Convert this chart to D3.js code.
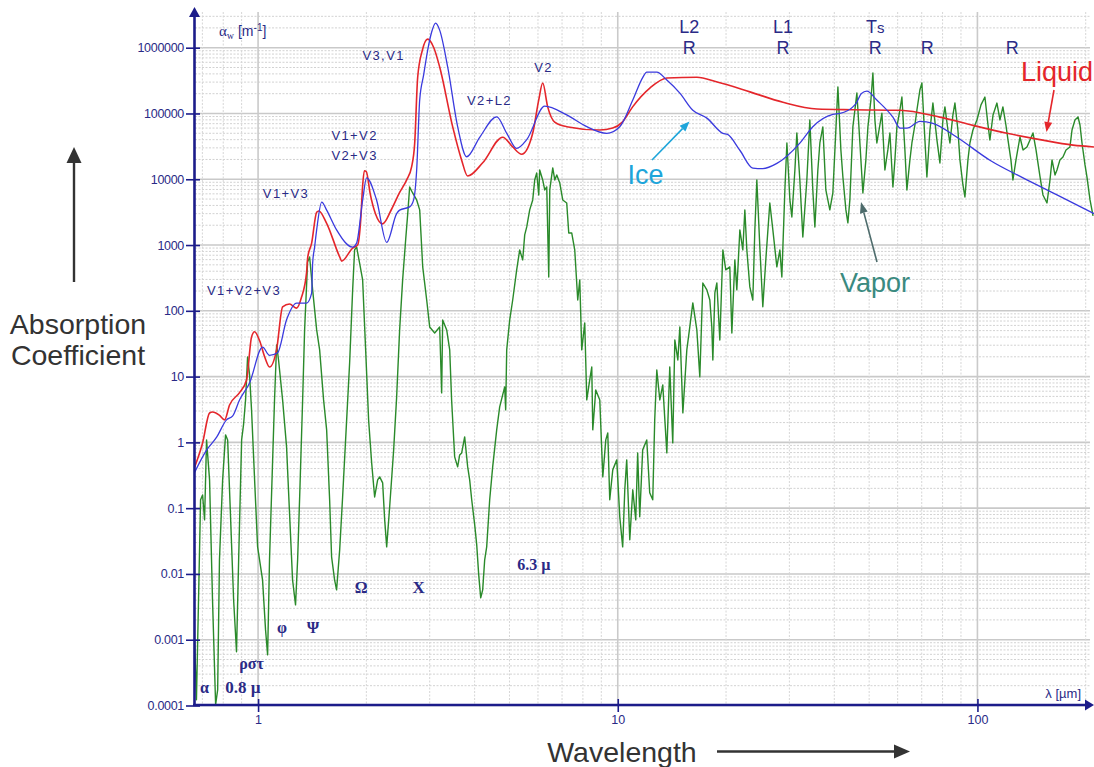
<!DOCTYPE html>
<html>
<head>
<meta charset="utf-8">
<script src="https://cdn.jsdelivr.net/npm/d3@7"></script>
<style>
  body { margin: 0; background: #fff; }
  svg { display: block; }
</style>
</head>
<body>
<svg id="chart" width="1094" height="767"></svg>
<script>
// Axis ticks
const yTickValues = [1e-4, 1e-3, 1e-2, 1e-1, 1, 10, 100, 1000, 1e4, 1e5, 1e6];
const yTickLabels = ["0.0001", "0.001", "0.01", "0.1", "1", "10", "100", "1000", "10000", "100000", "1000000"];
const xTickValues = [1, 10, 100];
const xTickLabels = ["1", "10", "100"];

// Absorption coefficient of liquid water [wavelength µm, alpha m^-1]
const liquid = [
  [0.666,0.42],[0.701,0.98],[0.733,2.8],[0.747,2.9],[0.780,2.6],[0.807,2.2],[0.833,3.7],[0.888,5.7],
  [0.929,8.9],[0.959,40],[0.978,48],[1.010,35],[1.043,20],[1.076,14],[1.126,26],[1.170,115],[1.223,127],
  [1.280,110],[1.321,162],[1.364,380],[1.373,630],[1.409,1070],[1.455,3160],[1.475,3300],[1.551,2140],
  [1.686,660],[1.708,570],[1.832,900],[1.891,1000],[1.930,2500],[1.953,8000],[1.975,13500],[2.00,13000],
  [2.05,6000],[2.12,3000],[2.22,2100],[2.35,3500],[2.475,6300],[2.589,9800],[2.672,15400],[2.725,35000],
  [2.778,355000],[2.86,900000],[2.961,1.35e6],[3.08,1.0e6],[3.198,510000],[3.475,63000],[3.681,19500],
  [3.825,11200],[4.212,17800],[4.787,43600],[5.105,31000],[5.407,24000],[5.801,50000],[6.029,160000],
  [6.185,290000],[6.386,126000],[6.678,74000],[7.213,63000],[8.91,56000],[9.68,60000],[10.3,74000],
  [11.0,126000],[12.3,245000],[13.7,347000],[16.6,355000],[18.9,300000],[23.3,213000],[28.8,148000],
  [35.8,117000],[45,114000],[60.9,112000],[78.6,88000],[97.2,66000],[120.8,50000],[149.2,40000],
  [184.4,33000],[210.9,31000]
];

// Absorption coefficient of ice
const ice = [
  [0.666,0.35],[0.719,0.76],[0.767,1.2],[0.817,2.2],[0.849,2.5],[0.888,4.4],[0.947,8.0],[1.029,28],
  [1.076,21],[1.133,23],[1.200,73],[1.280,131],[1.364,131],[1.409,186],[1.418,530],[1.436,930],
  [1.455,1700],[1.503,4500],[1.551,3400],[1.653,1700],[1.832,930],[1.879,1070],[1.953,4800],[2.003,10500],
  [2.136,4800],[2.278,1100],[2.428,3000],[2.475,3400],[2.639,3800],[2.707,4850],[2.760,13840],
  [2.814,160000],[2.886,385000],[2.961,910000],[3.038,1.73e6],[3.117,2.36e6],[3.198,1.85e6],
  [3.366,510000],[3.588,63000],[3.802,22000],[4.132,43500],[4.607,89000],[4.914,50000],[5.236,29500],
  [5.584,40000],[6.266,129000],[7.213,95000],[8.20,63000],[9.32,50000],[10.13,63000],[11.01,160000],
  [11.74,355000],[12.04,426000],[12.84,426000],[13.69,322000],[14.88,204000],[16.17,112000],
  [17.69,85000],[19.60,50000],[20.2,48000],[21.85,27600],[23.74,14800],[25.31,14500],[27.69,17400],
  [32.08,35500],[34.86,63000],[39.63,97000],[41.5,100000],[45.05,126000],[46.2,148000],[47.5,200000],
  [49.3,219000],[52.5,160000],[58.2,88000],[61.0,60000],[63.7,60000],[69.2,76000],[75.2,71000],
  [87.7,43500],[108.3,19500],[133.9,10500],[166.4,5800],[210.9,3000]
];

// Absorption coefficient of water vapour
const vapor = [
  [0.666,0.001],[0.674,1.22e-4],[0.683,4.04e-3],[0.692,0.134],[0.701,0.159],[0.710,0.0664],[0.719,1.09],
  [0.733,0.269],[0.747,4.04e-3],[0.762,1.03e-4],[0.772,1.73e-4],[0.781,0.0164],[0.797,0.269],[0.812,1.30],
  [0.823,1.09],[0.839,0.0664],[0.855,4.04e-3],[0.871,6.55e-4],[0.883,0.0164],[0.900,1.09],[0.911,1.84],
  [0.923,4.42],[0.935,19.9],[0.947,10.6],[0.959,3.12],[0.978,0.269],[0.997,0.0258],[1.029,8.13e-3],
  [1.049,1.41e-3],[1.063,5.89e-4],[1.076,0.0164],[1.097,0.488],[1.111,4.42],[1.126,30.3],[1.140,17.9],
  [1.170,4.42],[1.200,0.855],[1.223,0.0848],[1.247,8.13e-3],[1.271,3.39e-3],[1.288,0.0164],[1.305,0.148],
  [1.330,4.42],[1.347,51.3],[1.373,553],[1.391,659],[1.418,208],[1.455,51.3],[1.483,25.5],[1.521,4.42],
  [1.551,1.55],[1.581,0.134],[1.601,0.0182],[1.632,8.13e-3],[1.653,5.73e-3],[1.686,0.0232],[1.718,0.148],
  [1.763,2.20],[1.797,16.2],[1.832,208],[1.855,843],[1.879,935],[1.915,535],[1.953,295],[1.991,25.5],
  [2.029,2.20],[2.069,0.488],[2.109,0.148],[2.150,0.269],[2.178,0.299],[2.220,0.242],[2.249,0.0664],
  [2.278,0.0258],[2.322,0.105],[2.382,0.769],[2.428,4.92],[2.475,51.3],[2.523,295],[2.572,1195],
  [2.605,2870],[2.639,7640],[2.690,6190],[2.760,4850],[2.814,3420],[2.869,465],[2.943,146],[3.000,56.9],
  [3.097,46.1],[3.198,56.9],[3.239,5.65],[3.260,72.7],[3.345,51.3],[3.410,25.5],[3.452,4.42],[3.520,0.602],
  [3.588,0.424],[3.635,0.645],[3.682,0.692],[3.753,1.21],[3.826,0.424],[3.875,0.269],[3.926,0.134],
  [4.002,0.0557],[4.054,0.0277],[4.106,9.69e-3],[4.159,4.33e-3],[4.212,5.73e-3],[4.266,0.0164],
  [4.321,0.0258],[4.405,0.134],[4.490,0.424],[4.607,1.55],[4.696,3.46],[4.787,5.27],[4.849,6.97],
  [4.880,3.12],[4.912,25.5],[5.007,72.7],[5.104,146],[5.236,419],[5.338,843],[5.441,594],[5.512,1425],
  [5.584,1884],[5.691,3420],[5.802,4850],[5.876,9750],[5.952,12470],[6.030,5770],[6.067,13840],
  [6.185,9750],[6.266,6880],[6.347,7640],[6.429,327],[6.471,6880],[6.596,14850],[6.682,9750],[6.767,11620],
  [6.899,8780],[7.031,4850],[7.213,4360],[7.307,1527],[7.447,1527],[7.593,843],[7.740,146],[7.841,295],
  [7.941,25.5],[8.095,65.5],[8.200,4.42],[8.358,8.91],[8.467,14.0],[8.522,1.55],[8.687,6.28],[8.913,4.42],
  [9.087,0.299],[9.262,1.09],[9.381,1.39],[9.500,0.134],[9.685,0.382],[9.936,0.542],[10.13,0.0738],
  [10.32,0.0258],[10.46,0.190],[10.59,0.542],[10.80,0.033],[11.01,0.190],[11.22,0.0664],[11.36,0.692],
  [11.51,0.0738],[11.73,0.769],[12.04,1.09],[12.27,0.171],[12.51,0.134],[12.67,2.20],[12.84,12.6],
  [13.09,4.42],[13.34,7.48],[13.69,0.692],[13.95,14.0],[14.22,0.983],[14.41,36.1],[14.69,17.9],
  [14.88,56.9],[15.17,2.81],[15.56,25.5],[15.86,56.9],[16.17,132],[16.59,51.3],[16.91,9.89],[17.24,265],
  [17.69,208],[18.03,146],[18.26,56.9],[18.38,17.9],[18.62,187],[18.86,265],[19.22,36.1],[19.60,843],
  [19.97,419],[20.49,465],[20.76,46.1],[21.16,594],[21.43,208],[21.85,1697],[22.27,843],[22.56,3420],
  [22.85,843],[23.29,231],[23.74,146],[24.05,1697],[24.36,9750],[24.83,935],[25.31,115],[25.80,594],
  [26.47,4360],[26.99,1697],[27.69,465],[28.23,843],[28.59,327],[29.15,6880],[29.53,35600],[30.10,4850],
  [30.48,2673],[31.08,13840],[31.47,50500],[32.08,9750],[32.70,1328],[33.55,9750],[34.20,79700],
  [34.86,6880],[35.32,1884],[36.00,13840],[36.47,35600],[37.17,62400],[37.89,6880],[38.87,3420],
  [39.63,6190],[40.40,56100],[40.93,253000],[41.72,27900],[42.26,10840],[43.08,3420],[43.63,2170],
  [44.19,4850],[45.05,62400],[46.22,205000],[47.12,35600],[48.03,6190],[48.96,19700],[49.60,62400],
  [50.56,160000],[51.21,413000],[51.87,79700],[52.53,35600],[53.55,66800],[54.25,101000],[55.30,13840],
  [56.36,27900],[57.10,50500],[58.21,7640],[58.96,19700],[59.72,62400],[60.88,113000],[61.66,178000],
  [62.85,27900],[63.67,6880],[64.90,19700],[65.74,35600],[67.01,66800],[67.88,113000],[69.18,227000],
  [70.08,291000],[71.45,39600],[72.36,10840],[73.78,56100],[75.20,144000],[77.15,39600],[78.65,17700],
  [80.17,79700],[81.21,126000],[82.78,56100],[83.85,35600],[85.47,94900],[86.58,144000],[88.25,56100],
  [89.40,19700],[91.14,8190],[92.30,5380],[94.10,19700],[95.30,35600],[97.16,56100],[99.68,79700],
  [102.3,135000],[104.9,178000],[107.0,66800],[108.3,39600],[110.5,94900],[113.3,144000],[115.5,79700],
  [117.7,126000],[120.0,66800],[121.6,39600],[123.9,19700],[125.5,9750],[128.0,19700],[131.3,43900],
  [133.9,27900],[137.3,31000],[140.0,39600],[142.7,50500],[145.5,27900],[149.3,10840],[152.1,5770],
  [156.1,4360],[159.1,9750],[161.2,19700],[164.3,11620],[166.4,13840],[169.6,19700],[172.9,21800],
  [176.3,27900],[180.8,31000],[183.2,56100],[186.7,79700],[190.4,88500],[192.8,66800],[195.3,35600],
  [199.1,16500],[201.6,10840],[205.6,4850],[209.6,2770]
];

// Band assignment labels, anchored at [wavelength, alpha]
const bandLabels = [
  { text: "V3,V1", at: [2.234, 6.5e5] },
  { text: "V2", at: [6.22, 4.27e5] },
  { text: "V2+L2", at: [4.40, 1.35e5] },
  { text: "V1+V2", at: [1.855, 39600] },
  { text: "V2+V3", at: [1.855, 19700] },
  { text: "V1+V3", at: [1.196, 5200] },
  { text: "V1+V2+V3", at: [0.914, 174] }
];
const rotationLabels = [
  { top: "L2", bottom: "R", at: 15.8 },
  { top: "L1", bottom: "R", at: 28.8 },
  { top: "T", sub: "s", bottom: "R", at: 52.0 },
  { top: "", bottom: "R", at: 72.5 },
  { top: "", bottom: "R", at: 125 }
];
const vaporBandLabels = [
  { text: "α", at: [0.710, 1.56e-4], size: 16 },
  { text: "0.8 µ", at: [0.908, 1.56e-4], size: 17 },
  { text: "ρστ", at: [0.959, 3.6e-4], size: 16 },
  { text: "φ", at: [1.166, 1.27e-3], size: 16 },
  { text: "Ψ", at: [1.422, 1.27e-3], size: 16 },
  { text: "Ω", at: [1.934, 5.16e-3], size: 16 },
  { text: "Χ", at: [2.796, 5.16e-3], size: 17 },
  { text: "6.3 µ", at: [5.84, 1.15e-2], size: 16 }
];

const svg = d3.select("#chart");
const navy = "#1c1c8a";
const labelNavy = "#2a2a86";
const sans = "Arial, 'Liberation Sans', sans-serif";
const serif = "'Times New Roman', 'Liberation Serif', serif";

const x = d3.scaleLog().domain([0.6635, 210.9]).range([194, 1094]);
const y = d3.scaleLog().domain([1e-4, 1e6]).range([705.5, 47.7]);
const plotTop = 12;
const plotRight = 1090;

// Grid
const grid = svg.append("g");
const yGridMinor = [];
for (let e = -4; e <= 6; e++) {
  for (let m = 2; m <= 9; m++) {
    const v = m * Math.pow(10, e);
    if (y(v) >= plotTop) yGridMinor.push(v);
  }
}
grid.selectAll(".ygm").data(yGridMinor).join("line")
  .attr("x1", 195).attr("x2", plotRight)
  .attr("y1", d => y(d)).attr("y2", d => y(d))
  .attr("stroke", "#d2d2d2").attr("stroke-width", 1).attr("stroke-dasharray", "2,1.5");
grid.selectAll(".ygM").data(yTickValues).join("line")
  .attr("x1", 195).attr("x2", plotRight)
  .attr("y1", d => y(d)).attr("y2", d => y(d))
  .attr("stroke", "#c9c9c9").attr("stroke-width", 1.6);

const xGridMinor = [];
for (let e = -1; e <= 2; e++) {
  for (let m = 2; m <= 9; m++) {
    const v = m * Math.pow(10, e);
    if (v > 0.6635 && x(v) <= plotRight) xGridMinor.push(v);
  }
}
grid.selectAll(".xgm").data(xGridMinor).join("line")
  .attr("x1", d => x(d)).attr("x2", d => x(d))
  .attr("y1", plotTop).attr("y2", 704)
  .attr("stroke", "#d6d6d6").attr("stroke-width", 1).attr("stroke-dasharray", "2,1.5");
grid.selectAll(".xgM").data(xTickValues).join("line")
  .attr("x1", d => x(d)).attr("x2", d => x(d))
  .attr("y1", plotTop).attr("y2", 704)
  .attr("stroke", "#cacaca").attr("stroke-width", 1.6);

// Curves
svg.append("clipPath").attr("id", "plotClip")
  .append("rect").attr("x", 195).attr("y", 6).attr("width", 899).attr("height", 699);

const smoothLine = d3.line().x(d => x(d[0])).y(d => y(d[1])).curve(d3.curveMonotoneX);
const rawLine = d3.line().x(d => x(d[0])).y(d => y(d[1]));

const curves = svg.append("g").attr("clip-path", "url(#plotClip)");
curves.append("path").datum(vapor).attr("d", rawLine)
  .attr("fill", "none").attr("stroke", "#2a8a2a").attr("stroke-width", 1.4).attr("stroke-linejoin", "round");
curves.append("path").datum(liquid).attr("d", smoothLine)
  .attr("fill", "none").attr("stroke", "#e4262b").attr("stroke-width", 1.6);
curves.append("path").datum(ice).attr("d", smoothLine)
  .attr("fill", "none").attr("stroke", "#3a3ade").attr("stroke-width", 1.3);

// Axes
const yAxis = d3.axisLeft(y).tickValues(yTickValues).tickFormat((d, i) => yTickLabels[i]).tickSize(8).tickPadding(2);
const gy = svg.append("g").attr("transform", "translate(194,0)").call(yAxis);
gy.select(".domain").remove();
gy.selectAll(".tick line").attr("x1", 6).attr("x2", -8).attr("stroke", navy).attr("stroke-width", 1.6);
gy.selectAll(".tick text").attr("fill", labelNavy).attr("font-size", 12.5)
  .attr("font-family", sans).attr("letter-spacing", "-0.3px");

const xAxis = d3.axisBottom(x).tickValues(xTickValues).tickFormat((d, i) => xTickLabels[i]).tickSize(7).tickPadding(3);
const gx = svg.append("g").attr("transform", "translate(0,705)").call(xAxis);
gx.select(".domain").remove();
gx.selectAll(".tick line").attr("y1", -6).attr("y2", 7).attr("stroke", navy).attr("stroke-width", 1.6);
gx.selectAll(".tick text").attr("fill", labelNavy).attr("font-size", 12.5).attr("font-family", sans);

svg.append("line").attr("x1", 194.5).attr("x2", 194.5).attr("y1", 706).attr("y2", 14)
  .attr("stroke", navy).attr("stroke-width", 2.6);
svg.append("path").attr("d", "M194.5,7 L189,17 L200,17 Z").attr("fill", navy);
svg.append("line").attr("x1", 193).attr("x2", 1086).attr("y1", 705).attr("y2", 705)
  .attr("stroke", navy).attr("stroke-width", 2.6);
svg.append("path").attr("d", "M1094,705 L1085,699.5 L1085,710.5 Z").attr("fill", navy);

svg.append("text").attr("x", 219).attr("y", 36).attr("fill", labelNavy)
  .attr("font-family", serif).attr("font-size", 15)
  .html(`α<tspan font-size="10" dy="3">w</tspan><tspan dy="-3" font-family="${sans}" font-size="14"> [m</tspan><tspan font-family="${sans}" font-size="10" dy="-5">-1</tspan><tspan font-family="${sans}" font-size="14" dy="5">]</tspan>`);
svg.append("text").attr("x", 1081).attr("y", 698).attr("text-anchor", "end").attr("fill", labelNavy)
  .attr("font-family", sans).attr("font-size", 13).text("λ [µm]");

// Band labels
svg.append("g").selectAll("text").data(bandLabels).join("text")
  .attr("x", d => x(d.at[0])).attr("y", d => y(d.at[1]))
  .attr("text-anchor", "middle").attr("fill", labelNavy).attr("font-family", sans)
  .attr("font-size", 13).attr("letter-spacing", "1.4px").text(d => d.text);

const rot = svg.append("g").selectAll("g").data(rotationLabels).join("g");
const rotTop = rot.append("text").attr("x", d => x(d.at)).attr("y", 33).attr("text-anchor", "middle")
  .attr("fill", labelNavy).attr("font-family", sans).attr("font-size", 18);
rotTop.append("tspan").text(d => d.top);
rotTop.filter(d => d.sub).append("tspan").attr("font-size", 15).text(d => d.sub);
rot.append("text").attr("x", d => x(d.at)).attr("y", 54).attr("text-anchor", "middle")
  .attr("fill", labelNavy).attr("font-family", sans).attr("font-size", 18).text(d => d.bottom);

svg.append("g").selectAll("text").data(vaporBandLabels).join("text")
  .attr("x", d => x(d.at[0])).attr("y", d => y(d.at[1]))
  .attr("text-anchor", "middle").attr("fill", labelNavy)
  .attr("font-family", serif).attr("font-weight", "bold")
  .attr("font-size", d => d.size).text(d => d.text);

// Phase names and pointers
function arrow(x1, y1, x2, y2, color, width, headLen, headWidth) {
  const a = Math.atan2(y2 - y1, x2 - x1);
  const bx = x2 - headLen * Math.cos(a), by = y2 - headLen * Math.sin(a);
  svg.append("line").attr("x1", x1).attr("y1", y1).attr("x2", bx).attr("y2", by)
    .attr("stroke", color).attr("stroke-width", width);
  const px = -Math.sin(a) * headWidth / 2, py = Math.cos(a) * headWidth / 2;
  svg.append("path").attr("d", `M${x2},${y2} L${bx + px},${by + py} L${bx - px},${by - py} Z`).attr("fill", color);
}

svg.append("text").attr("x", 1093).attr("y", 81).attr("text-anchor", "end").attr("fill", "#e4262b")
  .attr("font-family", sans).attr("font-size", 27).text("Liquid");
arrow(1054, 90, 1046.5, 132, "#e4262b", 1.6, 10, 8);

svg.append("text").attr("x", 645.5).attr("y", 184).attr("text-anchor", "middle").attr("fill", "#1ea5da")
  .attr("font-family", sans).attr("font-size", 27).text("Ice");
arrow(652, 160, 689.5, 121.5, "#1ea5da", 1.6, 10, 8);

svg.append("text").attr("x", 875).attr("y", 292).attr("text-anchor", "middle").attr("fill", "#3a8a80")
  .attr("font-family", sans).attr("font-size", 27).text("Vapor");
arrow(877, 262, 861, 202, "#4d6b6b", 1.6, 11, 8);

// Outer axis captions
const capColor = "#333333";
svg.append("text").attr("x", 78).attr("y", 334).attr("text-anchor", "middle").attr("fill", capColor)
  .attr("font-family", sans).attr("font-size", 28.5).text("Absorption");
svg.append("text").attr("x", 78).attr("y", 365).attr("text-anchor", "middle").attr("fill", capColor)
  .attr("font-family", sans).attr("font-size", 28.5).text("Coefficient");
arrow(74, 282, 74, 147, capColor, 2.4, 16, 15);

svg.append("text").attr("x", 622).attr("y", 762).attr("text-anchor", "middle").attr("fill", capColor)
  .attr("font-family", sans).attr("font-size", 28.5).text("Wavelength");
arrow(717, 751.5, 910, 751.5, capColor, 2.4, 16, 14);
</script>
</body>
</html>
